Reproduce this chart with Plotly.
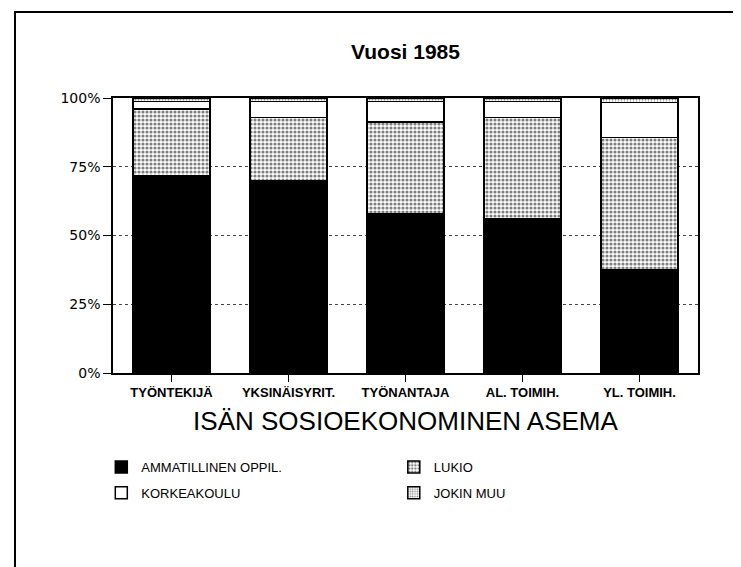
import plotly.graph_objects as go

categories = ["TYÖNTEKIJÄ", "YKSINÄISYRIT.", "TYÖNANTAJA", "AL. TOIMIH.", "YL. TOIMIH."]
ammatillinen = [71.6, 70.0, 58.0, 56.2, 37.4]
lukio = [24.4, 23.0, 33.2, 36.8, 48.3]
korkeakoulu = [2.7, 5.7, 7.5, 5.7, 12.7]
jokin_muu = [1.3, 1.3, 1.3, 1.3, 1.6]
y_tickvals = [0, 25, 50, 75, 100]
y_ticktext = ["0%", "25%", "50%", "75%", "100%"]

LINE = dict(color="black", width=1.5)
fig = go.Figure()
fig.add_trace(go.Bar(x=categories, y=ammatillinen, name="AMMATILLINEN OPPIL.",
                     marker=dict(color="black", line=LINE), legend="legend", legendgroup="a"))
fig.add_trace(go.Bar(x=categories, y=lukio, name="LUKIO",
                     marker=dict(color="white", line=LINE,
                                 pattern=dict(shape=".", size=4, solidity=0.5,
                                              fgcolor="black", bgcolor="white")),
                     legend="legend2", legendgroup="b"))
fig.add_trace(go.Bar(x=categories, y=korkeakoulu, name="KORKEAKOULU",
                     marker=dict(color="white", line=LINE), legend="legend", legendgroup="c"))
fig.add_trace(go.Bar(x=categories, y=jokin_muu, name="JOKIN MUU",
                     marker=dict(color="white", line=LINE,
                                 pattern=dict(shape=".", size=3, solidity=0.35,
                                              fgcolor="black", bgcolor="white")),
                     legend="legend2", legendgroup="d"))

legend_common = dict(font=dict(family="Liberation Sans", size=13, color="black"),
                     orientation="v", yanchor="top", xanchor="left",
                     tracegroupgap=6, bgcolor="rgba(0,0,0,0)", traceorder="grouped")

fig.update_layout(
    barmode="stack",
    bargap=0.34,
    width=741, height=567,
    margin=dict(l=105, r=51, t=90, b=202),
    paper_bgcolor="white", plot_bgcolor="white",
    title=dict(text="<b>Vuosi 1985</b>", x=0.5, xref="paper", xanchor="center",
               y=1 - 44 / 567, yref="container", yanchor="middle",
               font=dict(family="Liberation Sans", size=21, color="black")),
    xaxis=dict(range=[-0.5, 4.5], showline=True, mirror=True, linecolor="black", linewidth=1.5,
               ticks="outside", ticklen=7, tickcolor="black", showgrid=False,
               tickfont=dict(family="Liberation Sans", size=13, color="black", weight="bold"),
               title=dict(text="ISÄN SOSIOEKONOMINEN ASEMA", standoff=12,
                          font=dict(family="Liberation Sans", size=26, color="black"))),
    yaxis=dict(range=[0, 100], tickvals=y_tickvals, ticktext=y_ticktext,
               showline=True, mirror=True, linecolor="black", linewidth=1.5,
               ticks="outside", ticklen=8, tickcolor="black",
               showgrid=True, gridcolor="#444444", griddash="dot", gridwidth=1,
               zeroline=False,
               tickfont=dict(family="DejaVu Sans", size=14, color="black")),
    legend=dict(x=-0.02, y=-0.287, **legend_common),
    legend2=dict(x=0.48, y=-0.287, **legend_common),
    shapes=[dict(type="rect", xref="paper", yref="paper",
                 x0=-0.1675, x1=1.082, y0=-0.8, y1=1.313,
                 line=dict(color="black", width=2), layer="below")],
)

fig.write_html("out.html")
